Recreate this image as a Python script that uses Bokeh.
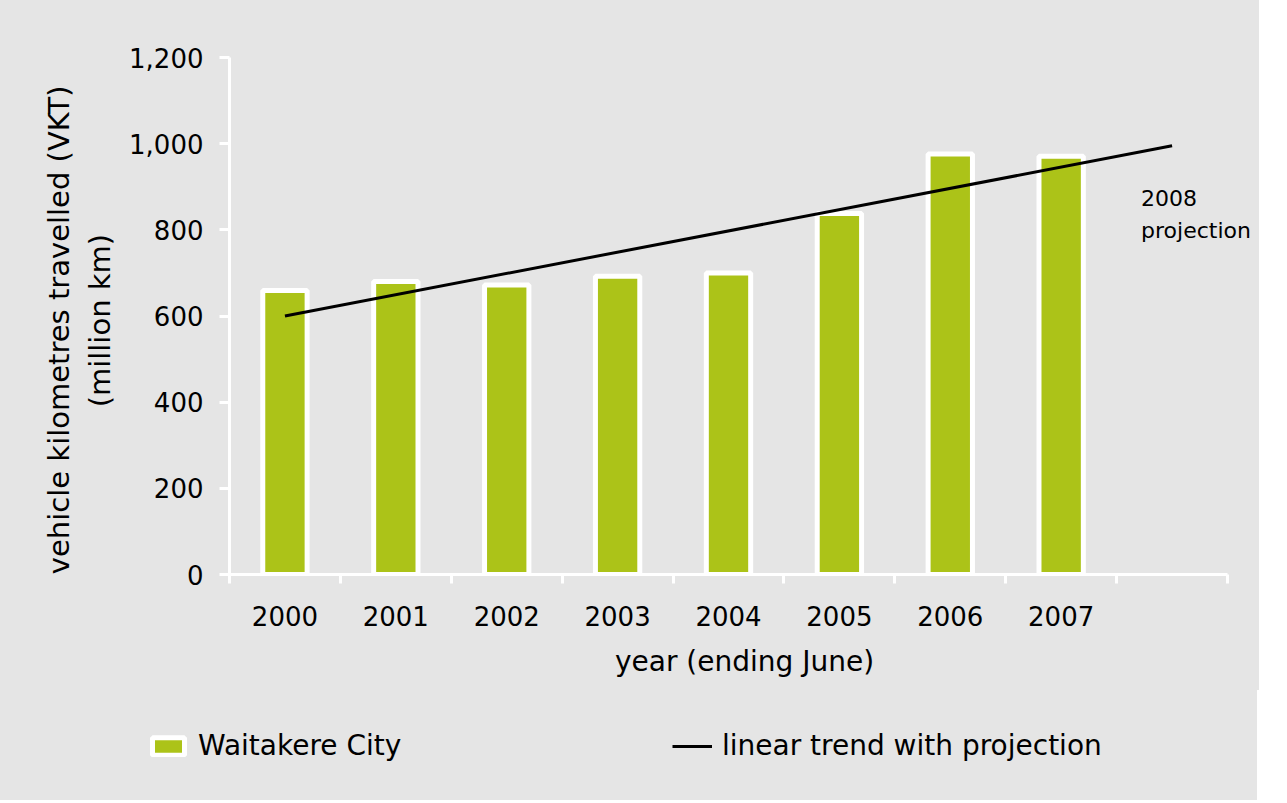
from bokeh.plotting import figure
from bokeh.layouts import column
from bokeh.models import (FixedTicker, NumeralTickFormatter, Legend, LegendItem,
                          Label, ColumnDataSource)
from bokeh.embed import file_html
from bokeh.resources import INLINE

# ---- data ----
years = ["2000", "2001", "2002", "2003", "2004", "2005", "2006", "2007"]
vkt = [659, 680, 672, 692, 700, 838, 976, 971]
axis_years = ["2000", "2001", "2002", "2003", "2004", "2005", "2006", "2007", "2008"]
trend_years = ["2000", "2008"]
trend_vkt = [600, 995]
y_ticks = [0, 200, 400, 600, 800, 1000, 1200]
series_names = ["Waitakere City", "linear trend with projection"]

GREEN = "#acc318"
BG = "#e5e5e5"
FONT = "DejaVu Sans"
NB = "\u00a0"

slot = {y: i + 0.5 for i, y in enumerate(axis_years)}
bar_src = ColumnDataSource(dict(x=[slot[y] for y in years], top=vkt))
trend_src = ColumnDataSource(dict(x=[slot[y] for y in trend_years], y=trend_vkt))

n = len(axis_years)
W = 1259
p = figure(width=W, height=690, x_range=(0, n * 1030 / 998), y_range=(0, 1200),
           output_backend="svg", toolbar_location=None,
           min_border_left=229, min_border_right=0, min_border_top=57,
           min_border_bottom=116,
           background_fill_color=BG, border_fill_color=BG, outline_line_color=None)
p.grid.visible = False

bar_style = dict(fill_color=GREEN, line_color="white", line_width=5)
line_style = dict(line_color="black", line_width=3)
p.vbar(x="x", top="top", bottom=0, width=0.4, source=bar_src, **bar_style)
p.line(x="x", y="y", source=trend_src, **line_style)

# x axis: boundary ticks as minor ticks, labels at slot centres
xa = p.xaxis[0]
xa.bounds = (0, n)
xa.ticker = FixedTicker(ticks=[slot[y] for y in axis_years[:-1]],
                        minor_ticks=list(range(n + 1)))
xa.major_label_overrides = {slot[y]: y for y in axis_years[:-1]}
xa.axis_line_color = "white"
xa.axis_line_width = 3
xa.major_tick_line_alpha = 0
xa.major_tick_out = 9
xa.major_tick_in = 0
xa.minor_tick_line_color = "white"
xa.minor_tick_line_width = 3
xa.minor_tick_out = 9
xa.minor_tick_in = 0
xa.major_label_standoff = 22
xa.major_label_text_font = FONT
xa.major_label_text_font_size = "26px"
xa.major_label_text_color = "black"
xa.axis_label = "year (ending June)"
xa.axis_label_text_font = FONT
xa.axis_label_text_font_size = "28px"
xa.axis_label_text_font_style = "normal"
xa.axis_label_text_color = "black"
xa.axis_label_standoff = 16

ya = p.yaxis[0]
ya.ticker = FixedTicker(ticks=y_ticks, minor_ticks=[])
ya.formatter = NumeralTickFormatter(format="0,0")
ya.axis_line_color = "white"
ya.axis_line_width = 3
ya.major_tick_line_color = "white"
ya.major_tick_line_width = 3
ya.major_tick_out = 10
ya.major_tick_in = 0
ya.minor_tick_line_alpha = 0
ya.major_label_standoff = 16
ya.major_label_text_font = FONT
ya.major_label_text_font_size = "26px"
ya.major_label_text_color = "black"
ya.axis_label = ("vehicle kilometres travelled (VKT)" + NB * 3 + "\n(million km)" + NB)
ya.axis_label_text_font = FONT
ya.axis_label_text_font_size = "29px"
ya.axis_label_text_font_style = "normal"
ya.axis_label_text_color = "black"
ya.axis_label_standoff = 9

# projection note
p.add_layout(Label(x=slot[trend_years[-1]], y=trend_vkt[-1], x_offset=-31, y_offset=-40,
                   text="2008\nprojection", text_font=FONT, text_font_size="22px",
                   text_color="black", text_baseline="top", text_align="left",
                   text_line_height=1.3))

# legend strip below the chart (legend proxies use the same data, scrolled out of view)
q = figure(width=W, height=110, x_range=(-20, -19), y_range=(0, 1),
           output_backend="svg", toolbar_location=None,
           x_axis_type=None, y_axis_type=None,
           min_border_left=0, min_border_right=0, min_border_top=0, min_border_bottom=0,
           background_fill_color=BG, border_fill_color=BG, outline_line_color=None)
q.grid.visible = False
for fig in (p, q):
    if hasattr(fig, "frame_align"):
        fig.frame_align = False
lb = q.vbar(x="x", top="top", bottom=0, width=0.4, source=bar_src, **bar_style)
ll = q.line(x="x", y="y", source=trend_src, **line_style)
legend = Legend(items=[LegendItem(label=series_names[0], renderers=[lb]),
                       LegendItem(label=series_names[1], renderers=[ll])],
                orientation="horizontal", location=(148, 38),
                glyph_width=40, glyph_height=22, label_standoff=10, label_width=474,
                spacing=0, padding=0, margin=0,
                label_text_font=FONT, label_text_font_size="28px", label_text_color="black",
                background_fill_alpha=0, border_line_color=None)
q.add_layout(legend)

layout = column(p, q, spacing=0, styles={"background-color": BG})
open("out.html", "w").write(file_html(layout, INLINE))
